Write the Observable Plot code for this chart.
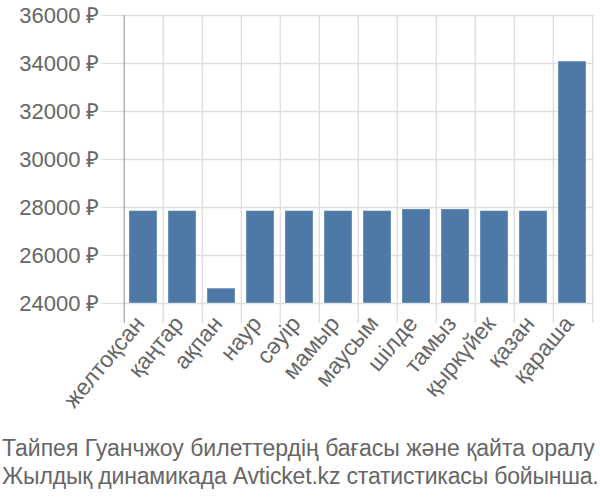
<!DOCTYPE html>
<html>
<head>
<meta charset="utf-8">
<script src="https://cdn.jsdelivr.net/npm/d3@7"></script>
<script src="https://cdn.jsdelivr.net/npm/@observablehq/plot@0.6"></script>
<style>
  html, body { margin: 0; padding: 0; background: #fff; overflow: hidden; }
  #chart { width: 600px; }
  .caption {
    font-family: "Liberation Sans", Arial, sans-serif;
    font-size: 23px;
    line-height: 28px;
    color: #666;
    white-space: nowrap;
    text-align: left;
    padding-left: 2px;
    padding-top: 4px;
    width: 600px;
  }
  .caption .l2 { letter-spacing: -0.18px; }
</style>
</head>
<body>
<div id="chart"></div>
<div class="caption">Тайпея Гуанчжоу билеттердің бағасы және қайта оралу<br><span class="l2">Жылдық динамикада Avticket.kz статистикасы бойынша.</span></div>
<script>
const months = ["желтоқсан", "қаңтар", "ақпан", "наур", "сәуір", "мамыр", "маусым", "шілде", "тамыз", "қыркүйек", "қазан", "қараша"];
const prices = [27850, 27850, 24620, 27850, 27850, 27850, 27850, 27920, 27920, 27850, 27850, 34080];
const yTicks = [24000, 26000, 28000, 30000, 32000, 34000, 36000];
const yDomain = [24000, 36000];

const data = months.map((m, i) => ({month: m, value: prices[i]}));

const width = 600, height = 430;
const marginLeft = 121, marginRight = 6, marginTop = 15, marginBottom = 127;
const step = (width - marginLeft - marginRight) / months.length;
const font = "Liberation Sans, Arial, sans-serif";

const chart = Plot.plot({
  width, height, marginLeft, marginRight, marginTop, marginBottom,
  style: {fontFamily: font, fontSize: "22px", background: "#fff", color: "#666", overflow: "visible"},
  x: {domain: months, padding: 0, label: null},
  y: {domain: yDomain, label: null},
  marks: [
    Plot.gridY(yTicks, {stroke: "#ddd", strokeOpacity: 1, strokeWidth: 1.3}),
    Plot.ruleX(months.slice(1), {x: d => d, dx: -step / 2, stroke: "#ddd", strokeWidth: 1.3, insetBottom: -20}),
    Plot.ruleX(months.slice(-1), {x: d => d, dx: step / 2, stroke: "#ddd", strokeWidth: 1.3, insetBottom: -20}),
    Plot.barY(data, {x: "month", y1: yDomain[0], y2: "value", fill: "#4e79a7", stroke: "#fff", strokeOpacity: 0.35, insetLeft: 5, insetRight: 6}),
    Plot.ruleX(months.slice(0, 1), {x: d => d, dx: -step / 2, stroke: "#aaa", strokeWidth: 1.3, insetBottom: -20}),
    Plot.axisY({ticks: yTicks, tickFormat: d => d + " ₽", tickSize: 20, tickPadding: 2, stroke: "#ddd", fill: "#666", fontSize: 22, label: null}),
    Plot.axisX({tickSize: 0, tickPadding: 16, tickRotate: -50, dx: -4, fill: "#666", fontSize: 23, label: null})
  ]
});
document.getElementById("chart").append(chart);
</script>
</body>
</html>
